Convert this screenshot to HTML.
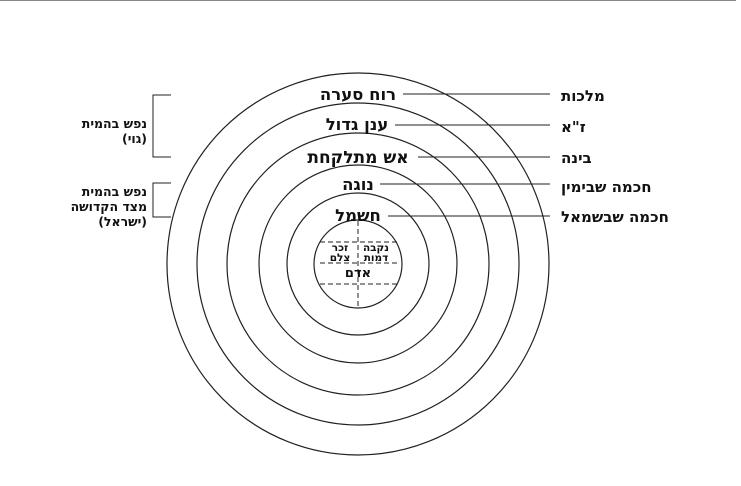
<!DOCTYPE html>
<html><head><meta charset="utf-8"><style>
html,body{margin:0;padding:0;background:#fff;width:741px;height:486px;overflow:hidden}
text{font-family:"DejaVu Sans","Liberation Sans",sans-serif;font-weight:bold;fill:#111}
</style></head><body>
<svg width="741" height="486" viewBox="0 0 741 486" xmlns="http://www.w3.org/2000/svg">
<line x1="0" y1="0.5" x2="736" y2="0.5" stroke="#888" stroke-width="1"/>
<g fill="none" stroke="#222" stroke-width="1.2">
<circle cx="358" cy="264" r="191"/>
<circle cx="358" cy="264" r="161"/>
<circle cx="358" cy="264" r="131"/>
<circle cx="358" cy="264" r="99"/>
<circle cx="358" cy="264" r="71"/>
<circle cx="358" cy="264" r="44"/>
</g>
<g stroke="#222" stroke-width="1" stroke-dasharray="5,3">
<line x1="358" y1="221" x2="358" y2="308"/>
<line x1="320" y1="242" x2="397" y2="242"/>
<line x1="320" y1="263" x2="397" y2="263"/>
<line x1="320" y1="284" x2="397" y2="284"/>
</g>
<g stroke="#222" stroke-width="1">
<line x1="403" y1="94" x2="550" y2="94"/>
<line x1="395" y1="125" x2="550" y2="125"/>
<line x1="418" y1="157" x2="550" y2="157"/>
<line x1="380" y1="184" x2="550" y2="184"/>
<line x1="388" y1="216" x2="550" y2="216"/>
<polyline fill="none" points="171,95 153,95 153,157 171,157"/>
<polyline fill="none" points="171,183 153,183 153,217 171,217"/>
</g>
<g font-size="16.5" text-anchor="middle">
<text x="358" y="100">רוח סערה</text>
<text x="357" y="130">ענן גדול</text>
<text x="358" y="163" font-size="17">אש מתלקחת</text>
<text x="358" y="190">נוגה</text>
<text x="358" y="221">חשמל</text>
</g>
<g font-size="10.5" text-anchor="middle">
<text x="340" y="251">זכר</text>
<text x="376" y="251">נקבה</text>
<text x="340" y="261">צלם</text>
<text x="376" y="261">דמות</text>
<text x="358" y="277" font-size="13">אדם</text>
</g>
<g font-size="15" text-anchor="start">
<text x="561" y="101">מלכות</text>
<text x="561" y="132">ז"א</text>
<text x="561" y="163">בינה</text>
<text x="561" y="192">חכמה שבימין</text>
<text x="561" y="222">חכמה שבשמאל</text>
</g>
<g font-size="12.5" text-anchor="end">
<text x="147" y="128">נפש בהמית</text>
<text x="147" y="143">(גוי)</text>
<text x="147" y="196">נפש בהמית</text>
<text x="147" y="211">מצד הקדושה</text>
<text x="147" y="226">(ישראל)</text>
</g>
</svg>
</body></html>
